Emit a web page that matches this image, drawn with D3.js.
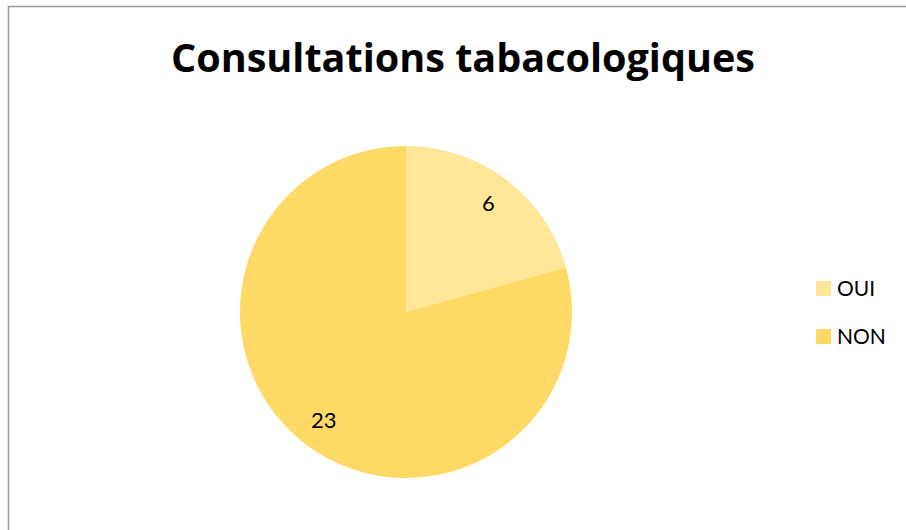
<!DOCTYPE html>
<html>
<head>
<meta charset="utf-8">
<script src="https://cdn.jsdelivr.net/npm/d3@7"></script>
<style>
  html, body { margin: 0; padding: 0; background: #fff; }
  svg { display: block; }
  text { font-variant-ligatures: none; }
</style>
</head>
<body>
<svg id="chart" width="906" height="530"></svg>
<script>
"use strict";

// ===== Data =====
const categories = ["OUI", "NON"];
const values = [6, 23];
const colors = ["#FFE699", "#FFD966"];
const title = "Consultations tabacologiques";

// ===== Setup =====
const svg = d3.select("#chart");
const W = 906, H = 530;
const font = "Lato, 'Open Sans', sans-serif";
const titleFont = "'Open Sans', sans-serif";

// chart frame (only left and top edges fall inside the window)
svg.append("path")
  .attr("d", `M8.5,${H}V6.5H${W}`)
  .attr("fill", "none")
  .attr("stroke", "#999")
  .attr("stroke-width", 1.5);

// Title: fit the width of the original heading
const titleText = svg.append("text")
  .attr("x", 463)
  .attr("y", 72)
  .attr("text-anchor", "middle")
  .attr("font-family", titleFont)
  .attr("font-weight", "bold")
  .attr("font-size", 39)
  .attr("fill", "#000")
  .text(title);
const tw = titleText.node().getComputedTextLength();
if (Math.abs(tw - 584) > 6) {
  titleText.attr("textLength", 584).attr("lengthAdjust", "spacingAndGlyphs");
}

// ===== Pie =====
const cx = 406, cy = 312, r = 166;
const data = categories.map((c, i) => ({ name: c, value: values[i], color: colors[i] }));

const pie = d3.pie().value(d => d.value).sort(null);
const arc = d3.arc().innerRadius(0).outerRadius(r);
const labelArc = d3.arc().innerRadius(136).outerRadius(136);

const g = svg.append("g").attr("transform", `translate(${cx},${cy})`);
const arcs = pie(data);

g.selectAll("path")
  .data(arcs)
  .join("path")
  .attr("d", arc)
  .attr("fill", d => d.data.color);

g.selectAll("text")
  .data(arcs)
  .join("text")
  .attr("transform", d => `translate(${labelArc.centroid(d)})`)
  .attr("text-anchor", "middle")
  .attr("dy", "0.35em")
  .attr("font-family", font)
  .attr("font-size", 22)
  .attr("fill", "#000")
  .text(d => d.data.value);

// ===== Legend =====
const legend = svg.append("g").attr("transform", "translate(816,281)");
const item = legend.selectAll("g")
  .data(data)
  .join("g")
  .attr("transform", (d, i) => `translate(0,${i * 48})`);

item.append("rect")
  .attr("width", 15)
  .attr("height", 15)
  .attr("fill", d => d.color);

item.append("text")
  .attr("x", 21)
  .attr("y", 7.5)
  .attr("dy", "0.36em")
  .attr("font-family", font)
  .attr("font-size", 21)
  .attr("fill", "#000")
  .text(d => d.name);
</script>
</body>
</html>
